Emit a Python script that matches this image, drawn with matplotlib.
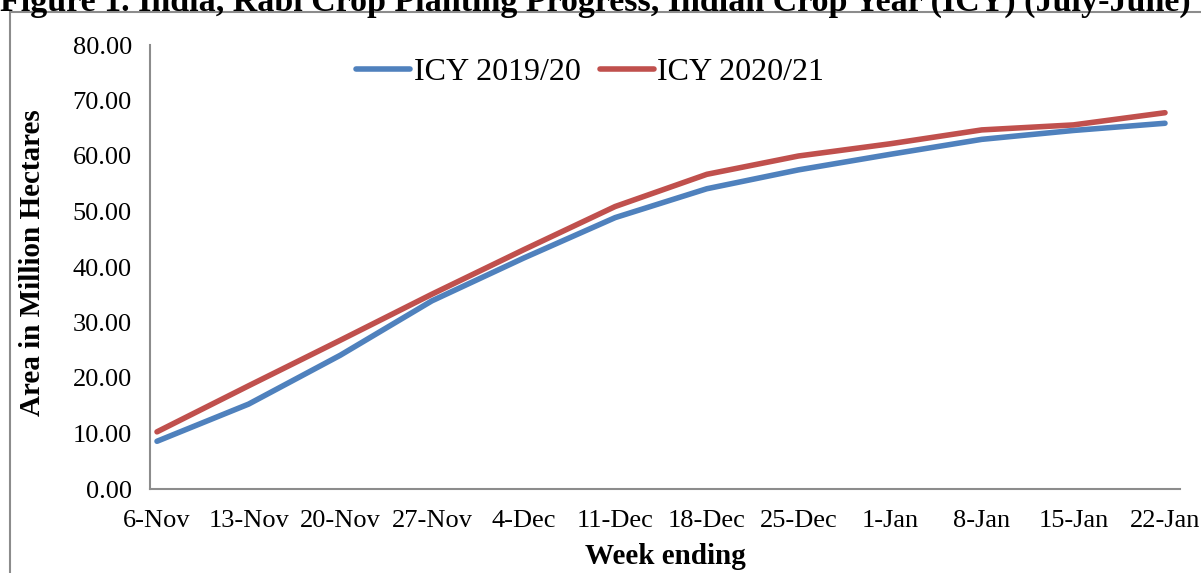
import matplotlib
matplotlib.use('Agg')
import matplotlib.pyplot as plt
from matplotlib.patches import Rectangle

weeks = ['6-Nov', '13-Nov', '20-Nov', '27-Nov', '4-Dec', '11-Dec', '18-Dec',
         '25-Dec', '1-Jan', '8-Jan', '15-Jan', '22-Jan']
icy_2019 = [8.6, 15.3, 24.1, 33.9, 41.6, 48.9, 54.1, 57.5, 60.3, 63.0, 64.6, 65.9]
icy_2020 = [10.3, 18.6, 26.8, 35.1, 43.1, 50.9, 56.7, 60.0, 62.2, 64.7, 65.6, 67.8]

plt.rcParams['font.family'] = ['Liberation Serif', 'DejaVu Serif']

W, H = 1201, 573
fig = plt.figure(figsize=(W / 100, H / 100), dpi=100)

# outer chart border (grey box, cut by the right and bottom edges)
fig.patches.append(Rectangle((10 / W, -0.05), 1.2, 1 - 12 / H + 0.05,
                             transform=fig.transFigure, fill=False,
                             edgecolor='#8c8c8c', linewidth=1.5))

ax = fig.add_axes([150 / W, (H - 489) / H, (1180 - 150) / W, (489 - 45) / H])
x = list(range(len(weeks)))
ax.plot(x, icy_2019, color='#4F81BD', linewidth=4, solid_capstyle='round',
        label='ICY 2019/20')
ax.plot(x, icy_2020, color='#C0504D', linewidth=4, solid_capstyle='round',
        label='ICY 2020/21')

step = (1165 - 157) / 11
ax.set_xlim(-7 / step, 11 + 15 / step)
ax.set_ylim(0, 80)
ax.set_yticks(range(0, 81, 10))
ax.set_yticklabels([f'{v:.2f}' for v in range(0, 81, 10)])
ax.set_xticks(x)
ax.set_xticklabels(weeks)
ax.tick_params(axis='both', length=0, labelsize=19)
ax.tick_params(axis='y', pad=13)
ax.tick_params(axis='x', pad=15)

for s in ['top', 'right']:
    ax.spines[s].set_visible(False)
for s in ['left', 'bottom']:
    ax.spines[s].set_color('#8c8c8c')
    ax.spines[s].set_linewidth(1.5)

ax.set_xlabel('Week ending', fontsize=21, fontweight='bold', labelpad=8)
fig.text(33 / W, (H - 263) / H, 'Area in Million Hectares', rotation=90,
         fontsize=21, fontweight='bold', ha='center', va='center')

fig.legend(loc='center', bbox_to_anchor=(590 / W, (H - 72) / H), ncol=2,
           frameon=False, fontsize=23, handlelength=1.7, handletextpad=0.1,
           columnspacing=0.6)

fig.text(0.0, 1 - 11 / H,
         'Figure 1. India, Rabi Crop Planting Progress, Indian Crop Year (ICY) (July-June)',
         fontsize=24.5, fontweight='bold', ha='left', va='baseline')

fig.savefig('out.png', dpi=100)
